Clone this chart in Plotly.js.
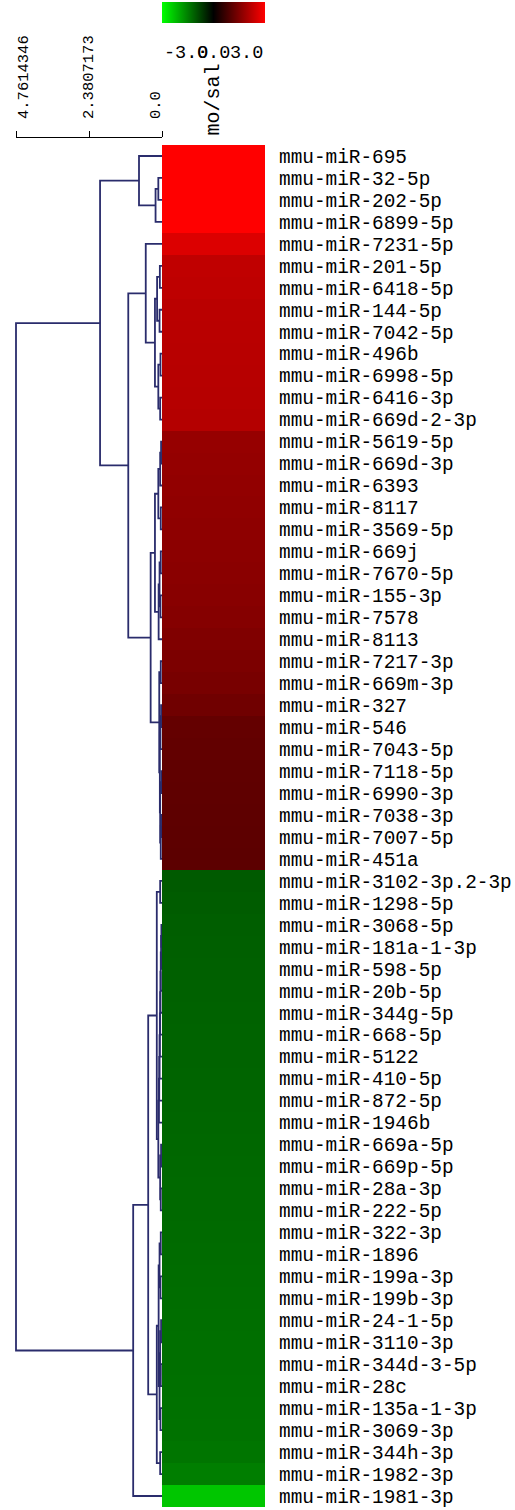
<!DOCTYPE html>
<html>
<head>
<meta charset="utf-8">
<script src="https://cdn.plot.ly/plotly-3.0.1.min.js"></script>
<style>
  html, body { margin: 0; padding: 0; background: #ffffff; }
  #chart { width: 515px; height: 1510px; }
</style>
</head>
<body>
<div id="chart"></div>
<script>
// row labels, top to bottom (tree order)
var rowLabels = [
  "mmu-miR-695", "mmu-miR-32-5p", "mmu-miR-202-5p", "mmu-miR-6899-5p", "mmu-miR-7231-5p",
  "mmu-miR-201-5p", "mmu-miR-6418-5p", "mmu-miR-144-5p", "mmu-miR-7042-5p", "mmu-miR-496b",
  "mmu-miR-6998-5p", "mmu-miR-6416-3p", "mmu-miR-669d-2-3p", "mmu-miR-5619-5p", "mmu-miR-669d-3p",
  "mmu-miR-6393", "mmu-miR-8117", "mmu-miR-3569-5p", "mmu-miR-669j", "mmu-miR-7670-5p",
  "mmu-miR-155-3p", "mmu-miR-7578", "mmu-miR-8113", "mmu-miR-7217-3p", "mmu-miR-669m-3p",
  "mmu-miR-327", "mmu-miR-546", "mmu-miR-7043-5p", "mmu-miR-7118-5p", "mmu-miR-6990-3p",
  "mmu-miR-7038-3p", "mmu-miR-7007-5p", "mmu-miR-451a", "mmu-miR-3102-3p.2-3p", "mmu-miR-1298-5p",
  "mmu-miR-3068-5p", "mmu-miR-181a-1-3p", "mmu-miR-598-5p", "mmu-miR-20b-5p", "mmu-miR-344g-5p",
  "mmu-miR-668-5p", "mmu-miR-5122", "mmu-miR-410-5p", "mmu-miR-872-5p", "mmu-miR-1946b",
  "mmu-miR-669a-5p", "mmu-miR-669p-5p", "mmu-miR-28a-3p", "mmu-miR-222-5p", "mmu-miR-322-3p",
  "mmu-miR-1896", "mmu-miR-199a-3p", "mmu-miR-199b-3p", "mmu-miR-24-1-5p", "mmu-miR-3110-3p",
  "mmu-miR-344d-3-5p", "mmu-miR-28c", "mmu-miR-135a-1-3p", "mmu-miR-3069-3p", "mmu-miR-344h-3p",
  "mmu-miR-1982-3p", "mmu-miR-1981-3p"
];

// log ratio mo/sal, same order
var rowValues = [
  3.35, 3.21, 3.12, 3.04, 2.59,
  2.26, 2.24, 2.19, 2.18, 2.16,
  2.15, 2.14, 2.12, 1.76, 1.74,
  1.72, 1.69, 1.67, 1.65, 1.62,
  1.60, 1.56, 1.51, 1.46, 1.41,
  1.32, 1.18, 1.15, 1.13, 1.12,
  1.11, 1.09, 1.08, -1.06, -1.08,
  -1.10, -1.12, -1.13, -1.14, -1.15,
  -1.16, -1.17, -1.18, -1.19, -1.20,
  -1.21, -1.22, -1.23, -1.24, -1.25,
  -1.26, -1.27, -1.28, -1.29, -1.30,
  -1.31, -1.32, -1.33, -1.34, -1.38,
  -1.48, -2.33
];

// gene tree: [childA, childB, distance]; ids >= 62 are earlier merges (62 + k)
var linkage = [
  [1, 2, 0.12], [62, 3, 0.21], [0, 63, 0.75],
  [5, 6, 0.07], [7, 8, 0.08], [65, 66, 0.16],
  [9, 10, 0.05], [11, 12, 0.06], [68, 69, 0.12],
  [67, 70, 0.23], [4, 71, 0.53],
  [13, 14, 0.03], [73, 15, 0.06], [16, 17, 0.04], [74, 75, 0.12],
  [18, 19, 0.04], [20, 21, 0.05], [77, 78, 0.08], [79, 22, 0.11],
  [76, 80, 0.23],
  [23, 24, 0.04], [25, 26, 0.03], [83, 27, 0.05], [28, 29, 0.02],
  [30, 31, 0.03], [86, 32, 0.04], [85, 87, 0.06], [84, 88, 0.07],
  [82, 89, 0.09], [81, 90, 0.37], [72, 91, 1.10], [64, 92, 2.02],
  [33, 34, 0.06], [35, 36, 0.02], [95, 37, 0.03], [96, 38, 0.04],
  [97, 39, 0.05], [98, 40, 0.06], [99, 41, 0.07], [100, 42, 0.08],
  [101, 43, 0.09], [102, 44, 0.10],
  [45, 46, 0.03], [47, 48, 0.04], [104, 105, 0.06], [103, 106, 0.12],
  [94, 107, 0.17],
  [49, 50, 0.04], [51, 52, 0.05], [109, 110, 0.08],
  [53, 54, 0.03], [55, 56, 0.04], [112, 113, 0.06],
  [57, 58, 0.05], [114, 115, 0.08], [111, 116, 0.11],
  [59, 60, 0.06], [117, 118, 0.17], [108, 119, 0.45],
  [120, 61, 0.94], [93, 121, 4.7614346]
];

var scaleTicks = [4.7614346, 2.3807173, 0.0];
var scaleText = ["4.7614346", "2.3807173", "0.0"];
var columnLabel = "mo/sal";
var colorTicks = [-3.0, 0.0, 3.0];
var colorText = ["-3.0", "0.0", "3.0"];

// page geometry in pixels
var W = 515, H = 1510;
function px(x) { return x / W; }
function py(y) { return 1 - y / H; }
var heatLeft = 162, heatRight = 265, heatTop = 145, heatBottom = 1507;
var treeScale = (heatLeft - 16) / scaleTicks[0]; // px per distance unit

// build dendrogram line segments
var rows = rowLabels.map(function (d, i) { return i; });
var nodeY = rows.slice();
var nodeH = rows.map(function () { return 0; });
var treeX = [], treeY = [];
linkage.forEach(function (m) {
  var a = m[0], b = m[1], h = m[2];
  treeX.push(nodeH[a], h, h, nodeH[b], null);
  treeY.push(nodeY[a], nodeY[a], nodeY[b], nodeY[b], null);
  nodeY.push((nodeY[a] + nodeY[b]) / 2);
  nodeH.push(h);
});

var greenBlackRed = [[0, "#00ff00"], [0.5, "#000000"], [1, "#ff0000"]];
var monoFont = "Liberation Mono, DejaVu Sans Mono, monospace";

var heat = {
  type: "heatmap",
  x: [columnLabel],
  y: rows,
  z: rowValues.map(function (v) { return [v]; }),
  zmin: colorTicks[0],
  zmax: colorTicks[2],
  colorscale: greenBlackRed,
  xaxis: "x",
  yaxis: "y",
  hoverinfo: "skip",
  colorbar: {
    orientation: "h",
    x: px((heatLeft + heatRight) / 2),
    xanchor: "center",
    y: py(2),
    yanchor: "top",
    len: heatRight - heatLeft,
    lenmode: "pixels",
    thickness: 21,
    thicknessmode: "pixels",
    xpad: 0,
    ypad: 0,
    outlinewidth: 0,
    showticklabels: false,
    ticks: ""
  }
};

var tree = {
  type: "scatter",
  mode: "lines",
  x: treeX,
  y: treeY,
  xaxis: "x2",
  yaxis: "y",
  line: { color: "#2a2c6c", width: 1.8 },
  hoverinfo: "skip",
  showlegend: false
};

// invisible trace so the distance scale axis gets drawn
var scaleHolder = {
  type: "scatter",
  mode: "markers",
  x: scaleTicks,
  y: [0, 0, 0],
  xaxis: "x3",
  yaxis: "y",
  marker: { opacity: 0 },
  hoverinfo: "skip",
  showlegend: false
};

var annotations = [];
var scaleCenters = [24, 89, 156];
scaleText.forEach(function (t, i) {
  annotations.push({
    xref: "paper", yref: "paper",
    x: px(scaleCenters[i]), y: py(121),
    xanchor: "center", yanchor: "bottom",
    text: t, textangle: -90, showarrow: false,
    font: { family: monoFont, size: 15.5, color: "#000000" }
  });
});
annotations.push({
  xref: "paper", yref: "paper",
  x: px(213.5), y: py(138),
  xanchor: "center", yanchor: "bottom",
  text: columnLabel, textangle: -90, showarrow: false,
  font: { family: monoFont, size: 20, color: "#000000" }
});
var colorAnchors = ["left", "center", "right"];
var colorX = [heatLeft, (heatLeft + heatRight) / 2, heatRight];
colorText.forEach(function (t, i) {
  annotations.push({
    xref: "paper", yref: "paper",
    x: px(colorX[i]), y: py(53),
    xanchor: colorAnchors[i], yanchor: "middle",
    text: t, showarrow: false,
    font: { family: monoFont, size: 18.5, color: "#000000" }
  });
});

var layout = {
  width: W,
  height: H,
  margin: { l: 0, r: 0, t: 0, b: 0, pad: 0 },
  paper_bgcolor: "#ffffff",
  plot_bgcolor: "rgba(0,0,0,0)",
  showlegend: false,
  xaxis: {
    domain: [px(heatLeft), px(heatRight)],
    anchor: "y",
    showticklabels: false, ticks: "", showgrid: false, zeroline: false, showline: false
  },
  yaxis: {
    domain: [py(heatBottom), py(heatTop)],
    range: [rows.length - 0.5, -0.5],
    anchor: "x",
    side: "right",
    tickmode: "array",
    tickvals: rows,
    ticktext: rowLabels,
    ticks: "",
    ticklabelstandoff: 13,
    tickfont: { family: monoFont, size: 19.4, color: "#000000" },
    showgrid: false, zeroline: false, showline: false
  },
  xaxis2: {
    domain: [0, px(heatLeft)],
    range: [heatLeft / treeScale, 0],
    anchor: "y",
    visible: false
  },
  xaxis3: {
    domain: [px(16), px(heatLeft)],
    range: [scaleTicks[0], 0],
    anchor: "free",
    position: py(137),
    side: "top",
    showline: true, linecolor: "#000000", linewidth: 1,
    ticks: "outside", ticklen: 6, tickcolor: "#000000", tickwidth: 1,
    tickmode: "array", tickvals: scaleTicks,
    showticklabels: false, showgrid: false, zeroline: false
  },
  annotations: annotations
};

Plotly.newPlot("chart", [heat, tree, scaleHolder], layout, { staticPlot: true, displayModeBar: false });
</script>
</body>
</html>
